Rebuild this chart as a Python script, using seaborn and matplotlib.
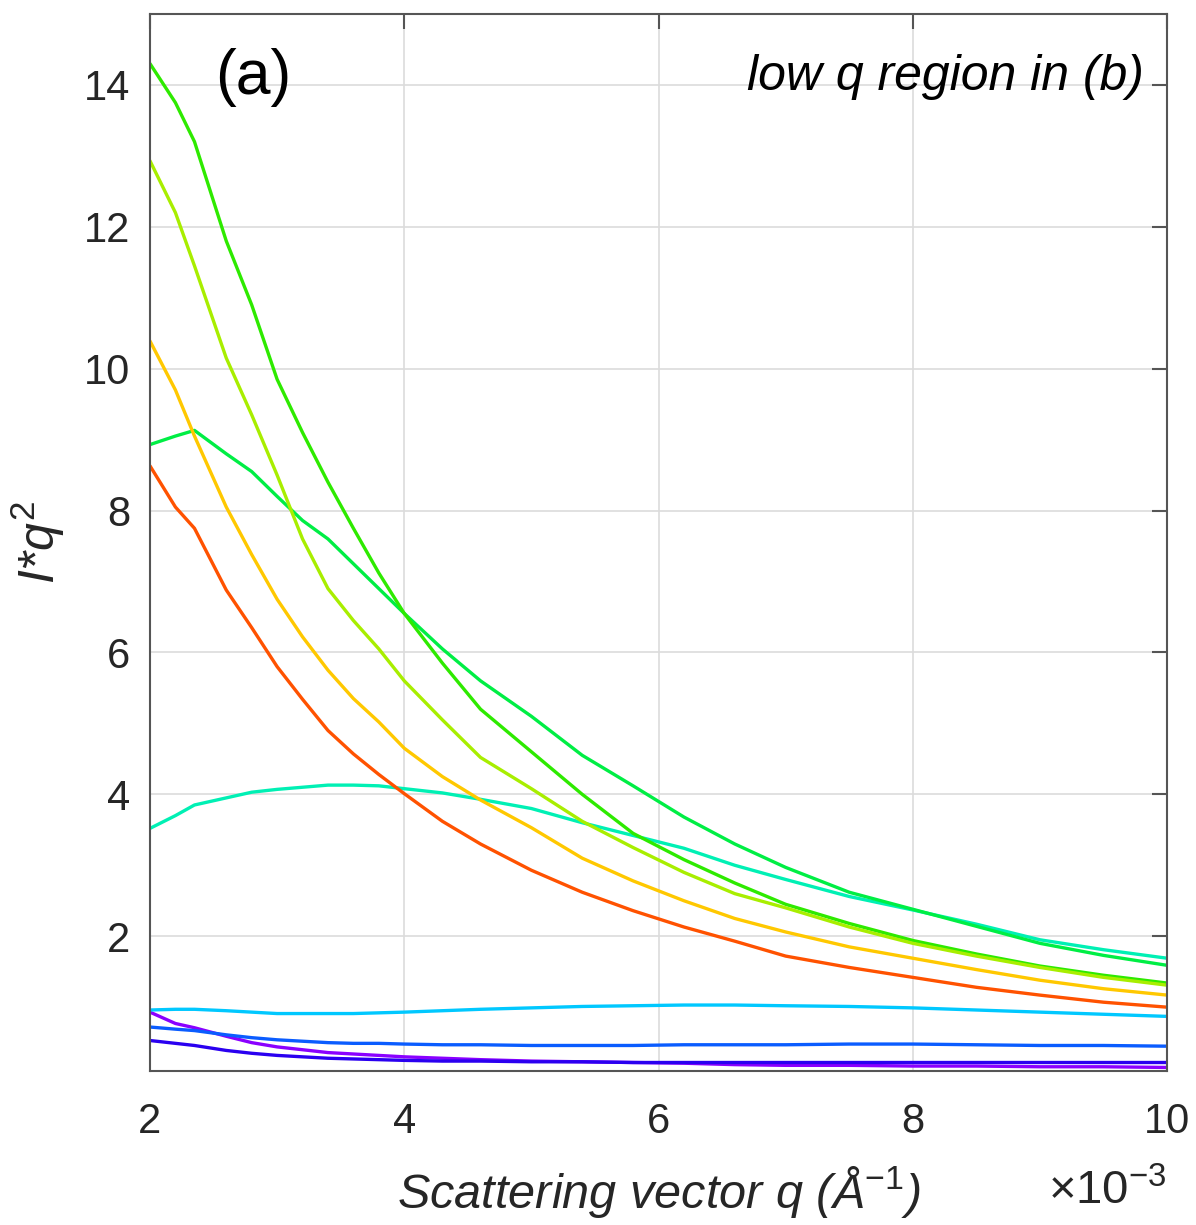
import numpy as np
import pandas as pd
import matplotlib
matplotlib.use("Agg")
import matplotlib.pyplot as plt
import seaborn as sns

# Scattering vector q, in units of 1e-3 1/Angstrom
q_milli = [2.0, 2.2, 2.35, 2.6, 2.8, 3.0, 3.2, 3.4, 3.6, 3.8, 4.0, 4.3, 4.6,
           5.0, 5.4, 5.8, 6.2, 6.6, 7.0, 7.5, 8.0, 8.5, 9.0, 9.5, 10.0]

# Kratky intensities I*q^2 for each sample
s_red = [8.63, 8.05, 7.75, 6.88, 6.35, 5.80, 5.34, 4.90, 4.57, 4.28, 4.01, 3.62, 3.30,
         2.93, 2.62, 2.36, 2.13, 1.93, 1.72, 1.56, 1.42, 1.28, 1.17, 1.07, 1.00]
s_orange = [10.39, 9.70, 9.05, 8.05, 7.38, 6.75, 6.22, 5.75, 5.35, 5.02, 4.65, 4.25, 3.92,
            3.53, 3.10, 2.78, 2.50, 2.25, 2.06, 1.85, 1.69, 1.53, 1.38, 1.26, 1.17]
s_lime = [12.93, 12.20, 11.45, 10.15, 9.35, 8.50, 7.60, 6.90, 6.45, 6.05, 5.60, 5.05, 4.52,
          4.08, 3.62, 3.25, 2.90, 2.60, 2.40, 2.13, 1.90, 1.72, 1.56, 1.42, 1.31]
s_green = [14.30, 13.75, 13.20, 11.80, 10.90, 9.85, 9.10, 8.40, 7.75, 7.12, 6.55, 5.85, 5.20,
           4.60, 4.00, 3.45, 3.08, 2.75, 2.45, 2.18, 1.94, 1.75, 1.58, 1.45, 1.34]
s_spring = [8.93, 9.05, 9.13, 8.80, 8.55, 8.20, 7.86, 7.60, 7.25, 6.90, 6.55, 6.05, 5.60,
            5.10, 4.55, 4.12, 3.68, 3.30, 2.97, 2.62, 2.38, 2.14, 1.90, 1.73, 1.59]
s_aqua = [3.52, 3.70, 3.85, 3.95, 4.03, 4.07, 4.10, 4.13, 4.13, 4.12, 4.08, 4.02, 3.93,
          3.80, 3.60, 3.42, 3.24, 3.00, 2.80, 2.56, 2.37, 2.17, 1.95, 1.81, 1.69]
s_sky = [0.96, 0.97, 0.97, 0.95, 0.93, 0.91, 0.91, 0.91, 0.91, 0.92, 0.93, 0.95, 0.97,
         0.99, 1.01, 1.02, 1.03, 1.03, 1.02, 1.01, 0.99, 0.96, 0.93, 0.90, 0.87]
s_blue = [0.72, 0.69, 0.67, 0.61, 0.57, 0.54, 0.52, 0.50, 0.49, 0.49, 0.48, 0.47, 0.47,
          0.46, 0.46, 0.46, 0.47, 0.47, 0.47, 0.48, 0.48, 0.47, 0.46, 0.46, 0.45]
s_navy = [0.53, 0.49, 0.46, 0.39, 0.35, 0.32, 0.30, 0.28, 0.27, 0.26, 0.25, 0.24, 0.24,
          0.23, 0.23, 0.22, 0.22, 0.22, 0.22, 0.22, 0.22, 0.22, 0.22, 0.22, 0.22]
s_violet = [0.93, 0.77, 0.71, 0.59, 0.50, 0.44, 0.40, 0.36, 0.34, 0.32, 0.30, 0.28, 0.26,
            0.24, 0.23, 0.22, 0.21, 0.19, 0.18, 0.18, 0.17, 0.17, 0.16, 0.16, 0.15]

series = {
    "violet": s_violet, "navy": s_navy, "blue": s_blue, "sky": s_sky,
    "aqua": s_aqua, "spring": s_spring, "green": s_green, "lime": s_lime,
    "orange": s_orange, "red": s_red,
}
palette = {
    "violet": "#8a00ff", "navy": "#2a00f0", "blue": "#0a5cff", "sky": "#00c8ff",
    "aqua": "#00f0b4", "spring": "#00ee44", "green": "#2eea00", "lime": "#a8ee00",
    "orange": "#ffc800", "red": "#ff5200",
}

df = pd.concat(
    [pd.DataFrame({"q": q_milli, "Iq2": v, "sample": k}) for k, v in series.items()],
    ignore_index=True,
)

sns.set_theme(style="white")
plt.rcParams["font.family"] = ["Liberation Sans", "DejaVu Sans"]
plt.rcParams["mathtext.fontset"] = "custom"
plt.rcParams["mathtext.rm"] = "Liberation Sans"
plt.rcParams["mathtext.it"] = "Liberation Sans:italic"

fig = plt.figure(figsize=(11.96, 12.25), dpi=100)
ax = fig.add_axes([0.1254, 0.1257, 0.8504, 0.8629])

sns.lineplot(data=df, x="q", y="Iq2", hue="sample", palette=palette,
             linewidth=2.4, legend=False, sort=False, ax=ax)

ax.set_xlim(2, 10)
ax.set_ylim(0.1, 15)
ax.set_xticks([2, 4, 6, 8, 10])
ax.set_yticks([2, 4, 6, 8, 10, 12, 14])
ax.grid(True, color="#dcdcdc", linewidth=1.2)
ax.set_axisbelow(True)

dark = "#262626"
for sp in ax.spines.values():
    sp.set_color("#555555")
    sp.set_linewidth(1.5)
ax.tick_params(direction="in", length=11, width=1.5, color="#555555",
               top=True, right=True, labelsize=30, labelcolor=dark, pad=14)
ax.tick_params(axis="x", pad=22)

ax.set_xlabel("Scattering vector q (Å$^{\\mathit{-1}}$)", fontsize=35,
              fontstyle="italic", color=dark, labelpad=16)
ax.set_ylabel("$I$*$q^{2}$", fontsize=36, fontstyle="italic", color=dark,
              labelpad=12)

ax.text(1.0, -0.114, "×10$^{-3}$", transform=ax.transAxes, ha="right",
        va="center", fontsize=34, color=dark)
ax.text(0.064, 0.94, "(a)", transform=ax.transAxes, ha="left", va="center",
        fontsize=45, color="black")
ax.text(0.977, 0.94, "low q region in (b)", transform=ax.transAxes, ha="right",
        va="center", fontsize=36, fontstyle="italic", color="black")

fig.savefig("out.png", dpi=100)
